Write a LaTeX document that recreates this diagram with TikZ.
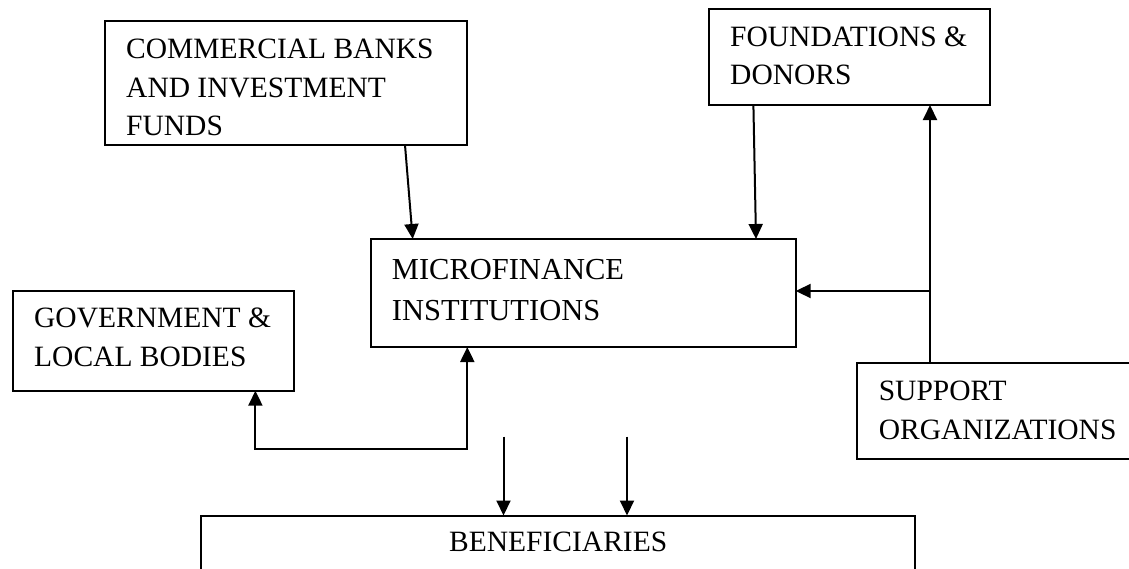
\documentclass[tikz,border=0pt]{standalone}
\usepackage{fontspec}
\setmainfont{Liberation Serif}
\usetikzlibrary{arrows.meta,calc}
\begin{document}
\begin{tikzpicture}[x=1pt,y=-1pt,
  box/.style={draw,line width=2pt,rectangle,inner sep=0pt,outer sep=0pt},
  lbl/.style={anchor=base west,inner sep=0pt,font=\fontsize{29.5}{36}\selectfont},
  lblbig/.style={anchor=base west,inner sep=0pt,font=\fontsize{30.5}{36}\selectfont},
  arr/.style={line width=2pt,-{Triangle[length=15pt,width=14pt]}},
  arrboth/.style={line width=2pt,{Triangle[length=15pt,width=14pt]}-{Triangle[length=15pt,width=14pt]}},
  plain/.style={line width=2pt}]
\useasboundingbox (0,0) rectangle (1129,568);
\clip (0,0) rectangle (1129,568);
% boxes
\node[box,minimum width=362.4pt,minimum height=124.3pt] (cb) at (285.8,82.85) {};
\node[box,minimum width=281.2pt,minimum height=96pt] (fd) at (849.4,57) {};
\node[box,minimum width=425pt,minimum height=108pt] (mfi) at (583.2,293) {};
\node[box,minimum width=281pt,minimum height=100pt] (gov) at (153,340.7) {};
\node[box,minimum width=283.2pt,minimum height=96pt] (sup) at (998.4,410.7) {};
\node[box,minimum width=714.5pt,minimum height=84.5pt] (ben) at (558.2,557.75) {};
% texts
\node[lbl] (cbt1) at (126,58) {COMMERCIAL BANKS};
\node[lbl] (cbt2) at (126,97) {AND INVESTMENT};
\node[lbl] (cbt3) at (126,135) {FUNDS};
\node[lbl] (fdt1) at (730,46.7) {FOUNDATIONS \&};
\node[lbl] (fdt2) at (730,84.3) {DONORS};
\node[lblbig] (mfit1) at (391.7,279) {MICROFINANCE};
\node[lblbig] (mfit2) at (391.7,320) {INSTITUTIONS};
\node[lbl] (govt1) at (34,327.7) {GOVERNMENT \&};
\node[lbl] (govt2) at (34,366.7) {LOCAL BODIES};
\node[lbl] (supt1) at (878.6,400.7) {SUPPORT};
\node[lbl] (supt2) at (878.6,439.3) {ORGANIZATIONS};
\node[lbl,anchor=base] (bent) at (558.2,551.7) {BENEFICIARIES};
% connectors
\draw[arr] ([xshift=300.4pt]cb.south west) -- ([xshift=42pt]mfi.north west);
\draw[arr] ([xshift=44.6pt]fd.south west) -- ([xshift=-39.7pt]mfi.north east);
\coordinate (s1) at ([xshift=73.2pt]sup.north west);
\draw[arr] (s1) -- (s1 |- fd.south);
\coordinate (me) at ([yshift=2pt]mfi.east);
\coordinate (s2) at (s1 |- me);
\draw[arr] (s2) -- (me);
\coordinate (g1) at ([xshift=242.9pt]gov.south west);
\coordinate (m1) at ([xshift=96.6pt]mfi.south west);
\draw[arrboth] (g1) -- ++(0,57.8) -| (m1);
\coordinate (d1) at (503.5,436.5);
\coordinate (d2) at (627,436.5);
\draw[arr] (d1) -- (d1 |- ben.north);
\draw[arr] (d2) -- (d2 |- ben.north);
\end{tikzpicture}
\end{document}
